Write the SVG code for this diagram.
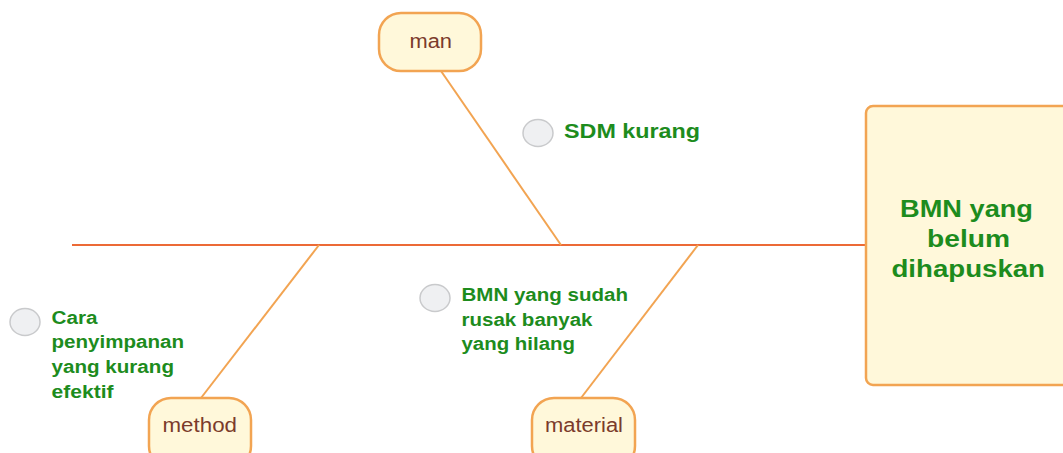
<svg xmlns="http://www.w3.org/2000/svg" width="1063" height="453" viewBox="0 0 1063 453">
<style>
.box{fill:#fff8da;stroke:#f2a452;stroke-width:2.5}
.cat{font-family:"Liberation Sans",Arial,sans-serif;font-size:20px;fill:#7b3b2b}
.lbl{font-family:"Liberation Sans",Arial,sans-serif;font-weight:bold;fill:#1d8c1d}
.dot{fill:#eff0f2;stroke:#c9cacc;stroke-width:1.5}
.bone{stroke:#f2a452;stroke-width:2;fill:none}
</style>
<rect width="1063" height="453" fill="#ffffff"/>
<g id="connectors">
<line x1="72" y1="245" x2="866" y2="245" stroke="#ec6a36" stroke-width="2"/>
<line class="bone" x1="441" y1="71" x2="561" y2="245"/>
<line class="bone" x1="319" y1="245" x2="201" y2="398"/>
<line class="bone" x1="698" y1="245" x2="581" y2="398"/>
</g>
<g id="head">
<rect class="box" x="866" y="106" width="210" height="279" rx="7"/>
<text class="lbl" font-size="23.5" x="900" y="217" textLength="133" lengthAdjust="spacingAndGlyphs">BMN yang</text>
<text class="lbl" font-size="23.5" x="927" y="247" textLength="83" lengthAdjust="spacingAndGlyphs">belum</text>
<text class="lbl" font-size="23.5" x="891.5" y="277" textLength="153.5" lengthAdjust="spacingAndGlyphs">dihapuskan</text>
</g>
<g id="man">
<rect class="box" x="379" y="13" width="102" height="58" rx="22"/>
<text class="cat" x="409.5" y="48" textLength="42.5" lengthAdjust="spacingAndGlyphs">man</text>
</g>
<g id="method">
<rect class="box" x="149" y="398" width="102" height="70" rx="22"/>
<text class="cat" x="162.5" y="432" textLength="74.5" lengthAdjust="spacingAndGlyphs">method</text>
</g>
<g id="material">
<rect class="box" x="532" y="398" width="103" height="70" rx="22"/>
<text class="cat" x="545" y="432" textLength="78" lengthAdjust="spacingAndGlyphs">material</text>
</g>
<g id="cause-sdm">
<ellipse class="dot" cx="538" cy="133" rx="15" ry="13.5"/>
<text class="lbl" font-size="21" x="564" y="138" textLength="136" lengthAdjust="spacingAndGlyphs">SDM kurang</text>
</g>
<g id="cause-bmn">
<ellipse class="dot" cx="435" cy="298" rx="15" ry="13.5"/>
<text class="lbl" font-size="17.5" x="461.5" y="301" textLength="166.5" lengthAdjust="spacingAndGlyphs">BMN yang sudah</text>
<text class="lbl" font-size="17.5" x="461.5" y="325.5" textLength="131" lengthAdjust="spacingAndGlyphs">rusak banyak</text>
<text class="lbl" font-size="17.5" x="461.5" y="350" textLength="113.5" lengthAdjust="spacingAndGlyphs">yang hilang</text>
</g>
<g id="cause-cara">
<ellipse class="dot" cx="25" cy="322" rx="15" ry="13.5"/>
<text class="lbl" font-size="17.5" x="51.5" y="323.5" textLength="46" lengthAdjust="spacingAndGlyphs">Cara</text>
<text class="lbl" font-size="17.5" x="51.5" y="348.3" textLength="132.5" lengthAdjust="spacingAndGlyphs">penyimpanan</text>
<text class="lbl" font-size="17.5" x="51.5" y="373" textLength="122.5" lengthAdjust="spacingAndGlyphs">yang kurang</text>
<text class="lbl" font-size="17.5" x="51.5" y="397.7" textLength="62" lengthAdjust="spacingAndGlyphs">efektif</text>
</g>
</svg>
